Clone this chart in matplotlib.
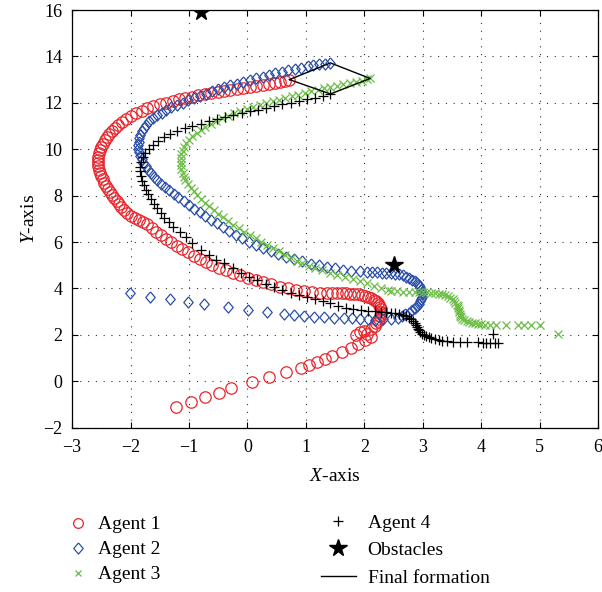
import matplotlib
matplotlib.use("Agg")
import matplotlib.pyplot as plt
from matplotlib.lines import Line2D

# ---------------- data ----------------
agent1_x = [-1.22, -0.96, -0.72, -0.49, -0.28, 0.07, 0.37, 0.66, 0.91, 1.05, 1.19, 1.33, 1.44, 1.61, 1.78,
            1.90, 2.02, 2.12, 2.05, 1.93, 1.86, 2.00, 2.12, 2.18,
            2.20, 2.23, 2.25, 2.27, 2.28, 2.28, 2.28, 2.27, 2.25, 2.23, 2.20, 2.16, 2.12, 2.07, 2.02, 1.96,
            1.90, 1.83, 1.76, 1.69, 1.61, 1.53, 1.45, 1.36,
            1.24, 1.11, 0.97, 0.83, 0.69, 0.55, 0.41, 0.27, 0.14, 0.01, -0.12, -0.25, -0.37, -0.49, -0.60,
            -0.71, -0.82, -0.92, -1.02, -1.12, -1.21, -1.30, -1.39, -1.48, -1.56, -1.64, -1.72,
            -1.79, -1.86, -1.93, -2.00, -2.06, -2.11, -2.16, -2.20, -2.24, -2.28, -2.32, -2.35, -2.39, -2.42,
            -2.45, -2.48, -2.50, -2.52, -2.54, -2.55, -2.56, -2.56, -2.55, -2.54, -2.52, -2.50, -2.47, -2.44,
            -2.41, -2.37, -2.32, -2.27, -2.21, -2.14, -2.07, -1.99, -1.90, -1.81, -1.71, -1.61, -1.50, -1.39,
            -1.28, -1.17, -1.06, -0.95, -0.84, -0.73, -0.62, -0.51, -0.40, -0.29, -0.18, -0.07, 0.04, 0.15,
            0.26, 0.37, 0.47, 0.56, 0.65, 0.72]
agent1_y = [-1.10, -0.88, -0.69, -0.50, -0.31, -0.05, 0.17, 0.38, 0.56, 0.70, 0.81, 0.96, 1.10, 1.25, 1.42,
            1.62, 1.78, 1.92, 2.05, 2.13, 2.00, 2.18, 2.26, 2.40,
            2.50, 2.60, 2.70, 2.80, 2.90, 3.00, 3.10, 3.19, 3.28, 3.36, 3.44, 3.51, 3.57, 3.63, 3.67, 3.71,
            3.74, 3.76, 3.78, 3.79, 3.80, 3.80, 3.81, 3.81,
            3.82, 3.85, 3.89, 3.94, 4.01, 4.08, 4.17, 4.26, 4.36, 4.46, 4.56, 4.67, 4.78, 4.90, 5.02,
            5.15, 5.28, 5.41, 5.55, 5.69, 5.84, 5.99, 6.14, 6.30, 6.45, 6.61, 6.77,
            6.85, 6.95, 7.04, 7.14, 7.25, 7.37, 7.49, 7.62, 7.75, 7.88, 8.01, 8.15, 8.28, 8.42,
            8.56, 8.70, 8.84, 8.98, 9.12, 9.26, 9.40, 9.54, 9.68, 9.82, 9.96, 10.10, 10.24, 10.38,
            10.52, 10.66, 10.80, 10.93, 11.06, 11.19, 11.31, 11.45, 11.56, 11.66, 11.76, 11.85, 11.93, 12.01,
            12.08, 12.15, 12.21, 12.27, 12.33, 12.38, 12.43, 12.48, 12.53, 12.57, 12.61, 12.65, 12.69, 12.73,
            12.77, 12.81, 12.85, 12.90, 12.95, 13.00]

agent2_x = [-2.01, -1.66, -1.33, -1.02, -0.74, -0.34, 0.01, 0.34, 0.63, 0.80, 0.97, 1.14, 1.31, 1.48, 1.65,
            1.79, 1.93, 2.06, 2.19, 2.32, 2.45, 2.57, 2.64, 2.70,
            2.76, 2.81, 2.86, 2.90, 2.93, 2.95, 2.97, 2.98, 2.98, 2.98, 2.97, 2.95, 2.93, 2.90, 2.86, 2.82,
            2.77, 2.72, 2.66, 2.60, 2.53, 2.46, 2.38, 2.30, 2.22, 2.14, 2.05,
            1.92, 1.78, 1.64, 1.50, 1.36, 1.22, 1.08, 0.94, 0.80, 0.66, 0.53, 0.40, 0.27, 0.15, 0.03,
            -0.09, -0.20, -0.31, -0.42, -0.52, -0.62, -0.72, -0.82, -0.91, -1.00, -1.09, -1.18, -1.26, -1.34,
            -1.41, -1.48, -1.54, -1.60, -1.65, -1.70, -1.74, -1.78, -1.81, -1.84, -1.86, -1.87, -1.87, -1.86,
            -1.85, -1.83, -1.80, -1.77, -1.73, -1.68, -1.62, -1.55, -1.47, -1.39, -1.30, -1.21, -1.11, -1.01,
            -0.91, -0.81, -0.71, -0.61, -0.51, -0.40, -0.29, -0.18, -0.07, 0.04, 0.15, 0.26, 0.37, 0.48,
            0.59, 0.70, 0.81, 0.92, 1.03, 1.13, 1.23, 1.33, 1.42]
agent2_y = [3.81, 3.64, 3.54, 3.43, 3.31, 3.18, 3.07, 2.97, 2.88, 2.85, 2.82, 2.78, 2.75, 2.74, 2.71,
            2.71, 2.70, 2.69, 2.62, 2.66, 2.70, 2.72, 2.80, 2.88,
            2.96, 3.05, 3.14, 3.24, 3.34, 3.44, 3.54, 3.64, 3.74, 3.84, 3.94, 4.04, 4.13, 4.22, 4.31, 4.38,
            4.45, 4.51, 4.56, 4.60, 4.63, 4.65, 4.67, 4.68, 4.69, 4.71, 4.72,
            4.74, 4.77, 4.81, 4.86, 4.92, 4.99, 5.07, 5.16, 5.26, 5.37, 5.49, 5.61, 5.74, 5.88, 6.02,
            6.17, 6.32, 6.48, 6.64, 6.80, 6.96, 7.12, 7.28, 7.44, 7.60, 7.76, 7.92, 8.08, 8.24,
            8.38, 8.52, 8.67, 8.82, 8.97, 9.12, 9.27, 9.42, 9.57, 9.72, 9.87, 10.02, 10.17, 10.32,
            10.47, 10.62, 10.77, 10.92, 11.06, 11.20, 11.33, 11.46, 11.58, 11.70, 11.81, 11.91, 12.01, 12.11,
            12.21, 12.31, 12.40, 12.49, 12.58, 12.67, 12.75, 12.83, 12.91, 12.99, 13.06, 13.13, 13.20, 13.27,
            13.33, 13.40, 13.46, 13.52, 13.57, 13.62, 13.66, 13.69, 13.72]

agent3_x = [5.31, 5.00, 4.86, 4.74, 4.63, 4.43, 4.26, 4.15,
            4.06, 4.00, 3.95, 3.90, 3.85, 3.80, 3.75, 3.71, 3.67, 3.65, 3.64, 3.63, 3.62, 3.62, 3.61, 3.60,
            3.58, 3.56, 3.54, 3.51, 3.47, 3.43, 3.38, 3.33, 3.27, 3.21, 3.14, 3.07, 3.00, 2.93, 2.86,
            2.76, 2.66, 2.56, 2.46,
            2.40, 2.28, 2.16, 2.04, 1.92, 1.80, 1.67, 1.54, 1.41, 1.28, 1.16, 1.05, 0.94, 0.84, 0.74, 0.64,
            0.54, 0.44, 0.34, 0.24, 0.14, 0.04, -0.06, -0.15, -0.24, -0.33, -0.42, -0.50, -0.58, -0.66,
            -0.73, -0.80, -0.86, -0.92, -0.97, -1.02, -1.06, -1.09, -1.11, -1.13, -1.14, -1.14, -1.14, -1.13,
            -1.11, -1.08, -1.05, -1.00, -0.94, -0.87, -0.80, -0.72, -0.63, -0.54, -0.44, -0.34, -0.23, -0.12,
            -0.01, 0.10, 0.21, 0.32, 0.43, 0.54, 0.65, 0.76, 0.87, 0.98, 1.09, 1.20, 1.31, 1.42,
            1.53, 1.64, 1.75, 1.86, 1.96, 2.05, 2.10]
agent3_y = [2.03, 2.42, 2.42, 2.42, 2.42, 2.42, 2.42, 2.42,
            2.44, 2.46, 2.48, 2.50, 2.53, 2.56, 2.60, 2.64, 2.69, 2.75, 2.82, 2.90, 2.98, 3.06, 3.14, 3.22,
            3.30, 3.38, 3.46, 3.53, 3.60, 3.66, 3.71, 3.75, 3.78, 3.80, 3.82, 3.83, 3.84, 3.84, 3.84,
            3.84, 3.85, 3.87, 3.90,
            3.92, 4.02, 4.12, 4.22, 4.31, 4.40, 4.49, 4.58, 4.68, 4.78, 4.88, 4.98, 5.08, 5.20, 5.33, 5.46,
            5.60, 5.74, 5.88, 6.02, 6.16, 6.30, 6.45, 6.60, 6.75, 6.90, 7.06, 7.22, 7.38, 7.54,
            7.70, 7.86, 8.02, 8.18, 8.34, 8.50, 8.66, 8.82, 8.98, 9.14, 9.30, 9.46, 9.62, 9.78,
            9.94, 10.10, 10.25, 10.40, 10.55, 10.69, 10.83, 10.96, 11.09, 11.21, 11.33, 11.44, 11.54, 11.64,
            11.73, 11.82, 11.90, 11.98, 12.06, 12.14, 12.21, 12.28, 12.35, 12.42, 12.49, 12.56, 12.62, 12.68,
            12.74, 12.80, 12.86, 12.91, 12.96, 13.01, 13.05]

agent4_x = [4.20, 4.29, 4.23, 4.15, 4.08, 4.03, 3.95, 3.75, 3.64, 3.52, 3.41,
            3.33, 3.27, 3.21, 3.15, 3.10, 3.06, 3.02, 2.99, 2.96, 2.94, 2.92, 2.90, 2.88, 2.86, 2.83, 2.80,
            2.76, 2.71, 2.66, 2.60, 2.53, 2.45, 2.37, 2.28, 2.19, 2.07, 1.95,
            1.81, 1.68, 1.55, 1.42, 1.29, 1.16, 1.02, 0.88, 0.74, 0.60, 0.46, 0.32, 0.17, 0.03, -0.11,
            -0.25, -0.40, -0.54, -0.65, -0.79, -0.94, -1.05, -1.16, -1.28,
            -1.35, -1.42, -1.48, -1.54, -1.60, -1.65, -1.70, -1.74, -1.77, -1.80, -1.82, -1.83, -1.83, -1.82,
            -1.79, -1.75, -1.69, -1.62, -1.53, -1.43, -1.32, -1.20, -1.07, -0.94, -0.80, -0.66, -0.52, -0.38,
            -0.24, -0.10, 0.04, 0.18, 0.32, 0.46, 0.60, 0.74, 0.88, 1.02, 1.16, 1.29, 1.42]
agent4_y = [2.03, 1.66, 1.65, 1.66, 1.66, 1.66, 1.67, 1.70, 1.70, 1.71, 1.73,
            1.75, 1.78, 1.81, 1.85, 1.89, 1.94, 1.99, 2.05, 2.12, 2.19, 2.27, 2.35, 2.43, 2.51, 2.59, 2.67,
            2.74, 2.80, 2.85, 2.89, 2.92, 2.95, 2.97, 2.99, 3.01, 3.03, 3.05,
            3.10, 3.17, 3.25, 3.35, 3.45, 3.54, 3.64, 3.72, 3.81, 3.93, 4.05, 4.19, 4.36, 4.50, 4.68,
            4.87, 5.08, 5.22, 5.44, 5.66, 5.94, 6.23, 6.44, 6.66,
            6.85, 7.05, 7.25, 7.45, 7.65, 7.85, 8.05, 8.25, 8.45, 8.65, 8.85, 9.05, 9.25, 9.45,
            9.65, 9.84, 10.02, 10.20, 10.37, 10.52, 10.66, 10.78, 10.90, 11.00, 11.10, 11.20, 11.29, 11.38,
            11.47, 11.55, 11.63, 11.71, 11.79, 11.87, 11.94, 12.01, 12.08, 12.15, 12.22, 12.30, 12.38]

obstacles_x = [-0.80, 2.50]
obstacles_y = [15.90, 5.02]

x_ticks = [-3, -2, -1, 0, 1, 2, 3, 4, 5, 6]
y_ticks = [-2, 0, 2, 4, 6, 8, 10, 12, 14, 16]
labels = ["Agent 1", "Agent 2", "Agent 3", "Agent 4", "Obstacles", "Final formation"]

# ---------------- style ----------------
plt.rcParams["font.family"] = ["Liberation Serif", "DejaVu Serif"]
plt.rcParams["mathtext.fontset"] = "custom"
plt.rcParams["mathtext.rm"] = "Liberation Serif"
plt.rcParams["mathtext.it"] = "Liberation Serif:italic"
plt.rcParams["axes.unicode_minus"] = True

RED = "#e8262d"
BLUE = "#2b4fa6"
GREEN = "#6bbd45"
BLACK = "#000000"
diamond = [(0, 1), (0.85, 0), (0, -1), (-0.85, 0), (0, 1)]

fig = plt.figure(figsize=(6.02, 5.92), dpi=100)
ax = fig.add_axes([0.1198, 0.2777, 0.8736, 0.7054])

ax.plot(agent1_x, agent1_y, linestyle="none", marker="o", markersize=8.2,
        markerfacecolor="none", markeredgecolor=RED, markeredgewidth=0.9)
ax.plot(agent2_x, agent2_y, linestyle="none", marker=diamond, markersize=8.0,
        markerfacecolor="none", markeredgecolor=BLUE, markeredgewidth=0.9)
ax.plot(agent3_x, agent3_y, linestyle="none", marker="x", markersize=5.5,
        markeredgecolor=GREEN, markeredgewidth=0.9)
ax.plot(agent4_x, agent4_y, linestyle="none", marker="+", markersize=7.5,
        markeredgecolor=BLACK, markeredgewidth=0.9)
ax.plot(obstacles_x, obstacles_y, linestyle="none", marker="*", markersize=13,
        color=BLACK, zorder=5)

# final formation: agent1 -> agent2 -> agent3 -> agent4 -> agent1 (last positions)
form_x = [agent1_x[-1], agent2_x[-1], agent3_x[-1], agent4_x[-1], agent1_x[-1]]
form_y = [agent1_y[-1], agent2_y[-1], agent3_y[-1], agent4_y[-1], agent1_y[-1]]
ax.plot(form_x, form_y, color=BLACK, linewidth=1.0, zorder=6)

ax.set_xlim(-3, 6)
ax.set_ylim(-2, 16)
ax.set_xticks(x_ticks)
ax.set_yticks(y_ticks)
ax.tick_params(axis="x", direction="in", top=True, length=4, width=0.8,
               labelsize=13, pad=8)
ax.tick_params(axis="y", direction="in", right=True, length=4, width=0.8,
               labelsize=13, pad=7)
ax.grid(True, color="#333333", linestyle=(0, (1, 6)), linewidth=0.8)
for s in ax.spines.values():
    s.set_linewidth(0.9)
ax.set_xlabel(r"$X$-axis", fontsize=14, labelpad=9)
ax.set_ylabel(r"$Y$-axis", fontsize=14, labelpad=4)

h1 = Line2D([], [], linestyle="none", marker="o", markersize=7, markerfacecolor="none",
            markeredgecolor=RED, markeredgewidth=0.9)
h2 = Line2D([], [], linestyle="none", marker=diamond, markersize=8, markerfacecolor="none",
            markeredgecolor=BLUE, markeredgewidth=0.9)
h3 = Line2D([], [], linestyle="none", marker="x", markersize=5, markeredgecolor=GREEN,
            markeredgewidth=0.9)
h4 = Line2D([], [], linestyle="none", marker="+", markersize=7, markeredgecolor=BLACK,
            markeredgewidth=0.9)
h5 = Line2D([], [], linestyle="none", marker="*", markersize=13, color=BLACK)
h6 = Line2D([], [], color=BLACK, linewidth=1.0)

fig.legend([h1, h2, h3], labels[:3], loc="upper left",
           bbox_to_anchor=(0.098, 0.145), frameon=False, fontsize=14,
           handlelength=1.0, handletextpad=0.5, labelspacing=0.38, borderpad=0)
fig.legend([h4, h5, h6], labels[3:], loc="upper left",
           bbox_to_anchor=(0.517, 0.148), frameon=False, fontsize=14,
           handlelength=1.8, handletextpad=0.6, labelspacing=0.51, borderpad=0)

fig.savefig("out.png", dpi=100)
